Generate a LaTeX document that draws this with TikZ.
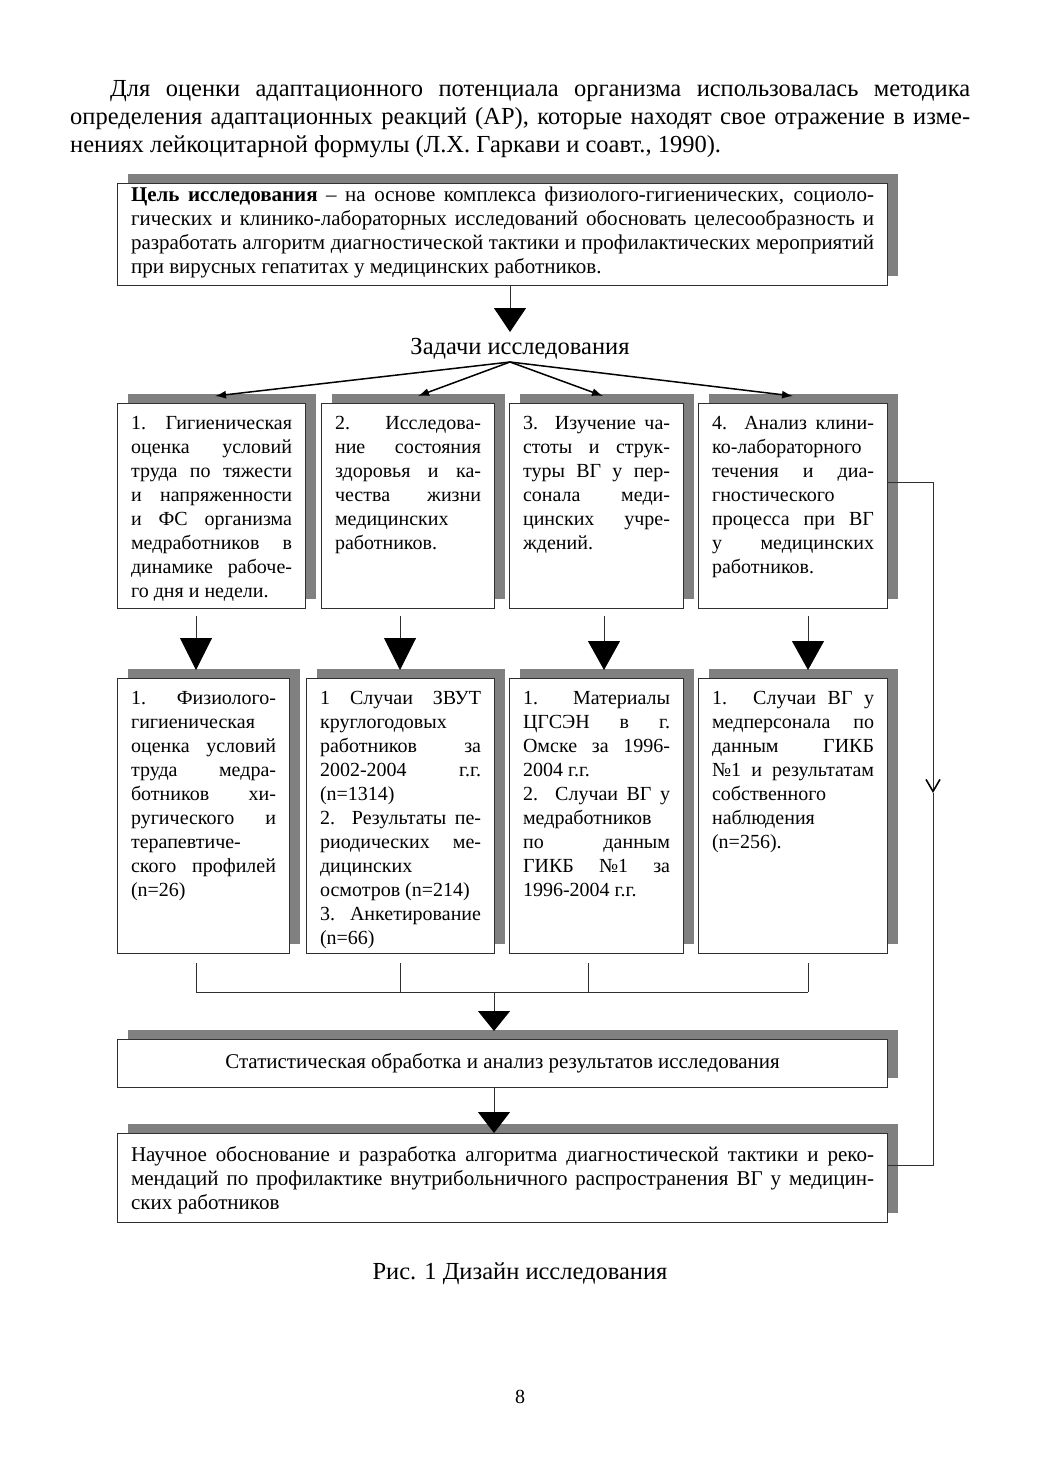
\documentclass[tikz,border=0pt]{standalone}
\usepackage{fontspec}
\setmainfont{Liberation Serif}
\usetikzlibrary{arrows.meta,shadows}
\definecolor{shade}{HTML}{808080}
\definecolor{linec}{HTML}{303030}
\newcommand{\jline}[1]{\hbox to \hsize{\strut #1}}
\newcommand{\pline}[1]{\hbox{\strut #1}}
\newcommand{\bx}[4]{\parbox[c][#2][t]{#1}{\vspace*{#3}#4}}
\tikzset{
  box/.style={draw=linec, line width=1.1pt, fill=white, inner sep=0pt, anchor=north west,
    drop shadow={shadow xshift=10pt, shadow yshift=10pt, fill=shade, opacity=1},
    font=\fontsize{20}{24}\selectfont},
  widebox/.style={box, font=\fontsize{21}{24}\selectfont},
  bigtxt/.style={font=\fontsize{24.5}{28}\selectfont, inner sep=0pt},
  conn/.style={draw=linec, line width=1pt},
  bigarrow/.style={conn, -{Triangle[width=32pt,length=#1,fill=black,color=black]}},
  fanarrow/.style={draw=black, line width=1.5pt, -{Latex[length=11pt,width=8pt]}},
  openarrow/.style={conn, -{Straight Barb[length=12pt,width=14pt,line width=1.6pt,color=black]}}
}
\begin{document}
\begin{tikzpicture}[x=1pt,y=-1pt]
\useasboundingbox[fill=white] (0,0) rectangle (1039,1471);
% top paragraph
\node[bigtxt, anchor=base west] (p1) at (110,97) {\hbox to 860pt{Для оценки адаптационного потенциала организма использовалась методика}};
\node[bigtxt, anchor=base west] (p2) at (70,125) {\hbox to 900pt{определения адаптационных реакций (АР), которые находят свое отражение в изме-}};
\node[bigtxt, anchor=base west] (p3) at (70,153) {нениях лейкоцитарной формулы (Л.Х. Гаркави и соавт., 1990).};
% goal box
\node[widebox, minimum width=770pt, minimum height=102pt] (goal) at (117,183) {\bx{743pt}{102pt}{1.2pt}{%
\jline{\textbf{Цель исследования} – на основе комплекса физиолого-гигиенических, социоло-}
\jline{гических и клинико-лабораторных исследований обосновать целесообразность и}
\jline{разработать алгоритм диагностической тактики и профилактических мероприятий}
\pline{при вирусных гепатитах у медицинских работников.}}};
% title
\node[bigtxt, anchor=base] (tasks) at (520,354) {Задачи исследования};
\coordinate (a0) at (510,332);
\draw[bigarrow=24pt] (goal.south -| a0) -- (a0);
% task boxes
\node[box, minimum width=188pt, minimum height=205pt] (t1) at (117,403) {\bx{161pt}{205pt}{9.2pt}{%
\jline{1. Гигиеническая}
\jline{оценка условий}
\jline{труда по тяжести}
\jline{и напряженности}
\jline{и ФС организма}
\jline{медработников в}
\jline{динамике рабоче-}
\pline{го дня и недели.}}};
\node[box, minimum width=173pt, minimum height=205pt] (t2) at (321,403) {\bx{146pt}{205pt}{9.2pt}{%
\jline{2. Исследова-}
\jline{ние состояния}
\jline{здоровья и ка-}
\jline{чества жизни}
\pline{медицинских}
\pline{работников.}}};
\node[box, minimum width=174pt, minimum height=205pt] (t3) at (509,403) {\bx{147pt}{205pt}{9.2pt}{%
\jline{3. Изучение ча-}
\jline{стоты и струк-}
\jline{туры ВГ у пер-}
\jline{сонала меди-}
\jline{цинских учре-}
\pline{ждений.}}};
\node[box, minimum width=189pt, minimum height=205pt] (t4) at (698,403) {\bx{162pt}{205pt}{9.2pt}{%
\jline{4. Анализ клини-}
\pline{ко-лабораторного}
\jline{течения и диа-}
\pline{гностического}
\jline{процесса при ВГ}
\jline{у медицинских}
\pline{работников.}}};
% fan arrows
\coordinate (fan) at (510,362);
\coordinate (f1) at (215,396);
\coordinate (f2) at (418,396);
\coordinate (f3) at (603,396);
\coordinate (f4) at (793,396);
\foreach \f in {f1,f2,f3,f4} \draw[fanarrow] (fan) -- (\f);
% material boxes
\node[box, minimum width=172pt, minimum height=275pt] (m1b) at (117,678) {\bx{145pt}{275pt}{9.2pt}{%
\jline{1. Физиолого-}
\pline{гигиеническая}
\jline{оценка условий}
\jline{труда медра-}
\jline{ботников хи-}
\jline{ругического и}
\pline{терапевтиче-}
\jline{ского профилей}
\pline{(n=26)}}};
\node[box, minimum width=188pt, minimum height=275pt] (m2b) at (306,678) {\bx{161pt}{275pt}{9.2pt}{%
\jline{1 Случаи ЗВУТ}
\pline{круглогодовых}
\jline{работников за}
\jline{2002-2004 г.г.}
\pline{(n=1314)}
\jline{2. Результаты пе-}
\jline{риодических ме-}
\pline{дицинских}
\pline{осмотров (n=214)}
\jline{3. Анкетирование}
\pline{(n=66)}}};
\node[box, minimum width=174pt, minimum height=275pt] (m3b) at (509,678) {\bx{147pt}{275pt}{9.2pt}{%
\jline{1. Материалы}
\jline{ЦГСЭН в г.}
\jline{Омске за 1996-}
\pline{2004 г.г.}
\jline{2. Случаи ВГ у}
\pline{медработников}
\jline{по данным}
\jline{ГИКБ №1 за}
\pline{1996-2004 г.г.}}};
\node[box, minimum width=189pt, minimum height=275pt] (m4b) at (698,678) {\bx{162pt}{275pt}{9.2pt}{%
\jline{1. Случаи ВГ у}
\jline{медперсонала по}
\jline{данным ГИКБ}
\jline{№1 и результатам}
\pline{собственного}
\pline{наблюдения}
\pline{(n=256).}}};
% arrows row1 -> row2
\coordinate (d1) at (196,670);
\coordinate (d2) at (400,670);
\coordinate (d3) at (604,670);
\coordinate (d4) at (808,670);
\draw[bigarrow=32pt] ([yshift=-7pt]t1.south -| d1) -- (d1);
\draw[bigarrow=32pt] ([yshift=-7pt]t2.south -| d2) -- (d2);
\draw[bigarrow=29pt] ([yshift=-7pt]t3.south -| d3) -- (d3);
\draw[bigarrow=29pt] ([yshift=-7pt]t4.south -| d4) -- (d4);
% merge lines
\coordinate (g1) at (196,992);
\coordinate (g2) at (400,992);
\coordinate (g3) at (588,992);
\coordinate (g4) at (808,992);
\coordinate (gc) at (494,992);
\draw[conn] ([yshift=-9pt]m1b.south -| g1) -- (g1);
\draw[conn] ([yshift=-9pt]m2b.south -| g2) -- (g2);
\draw[conn] ([yshift=-9pt]m3b.south -| g3) -- (g3);
\draw[conn] ([yshift=-9pt]m4b.south -| g4) -- (g4);
\draw[conn] (g1) -- (g4);
% stat box
\node[widebox, minimum width=770pt, minimum height=48pt] (stat) at (117,1039) {Статистическая обработка и анализ результатов исследования};
\draw[bigarrow=20pt] (gc) -- ([yshift=8pt]stat.north -| gc);
% final box
\node[widebox, minimum width=770pt, minimum height=89pt] (fin) at (117,1133) {\bx{743pt}{89pt}{10.7pt}{%
\jline{Научное обоснование и разработка алгоритма диагностической тактики и реко-}
\jline{мендаций по профилактике внутрибольничного распространения ВГ у медицин-}
\pline{ских работников}}};
\draw[bigarrow=21pt] (stat.south -| gc) -- (fin.north -| gc);
% right side connector
\coordinate (r1) at (933,482);
\coordinate (r2) at (933,793);
\coordinate (r3) at (933,1165);
\draw[openarrow] (t4.east |- r1) -- (r1) -- (r2);
\draw[conn] (r2) -- (r3) -- (fin.east |- r3);
% caption and page number
\node[bigtxt, anchor=base] (cap) at (520,1279) {Рис. 1 Дизайн исследования};
\node[font=\fontsize{20}{24}\selectfont, anchor=base, inner sep=0pt] (pnum) at (520,1403) {8};
\end{tikzpicture}
\end{document}
